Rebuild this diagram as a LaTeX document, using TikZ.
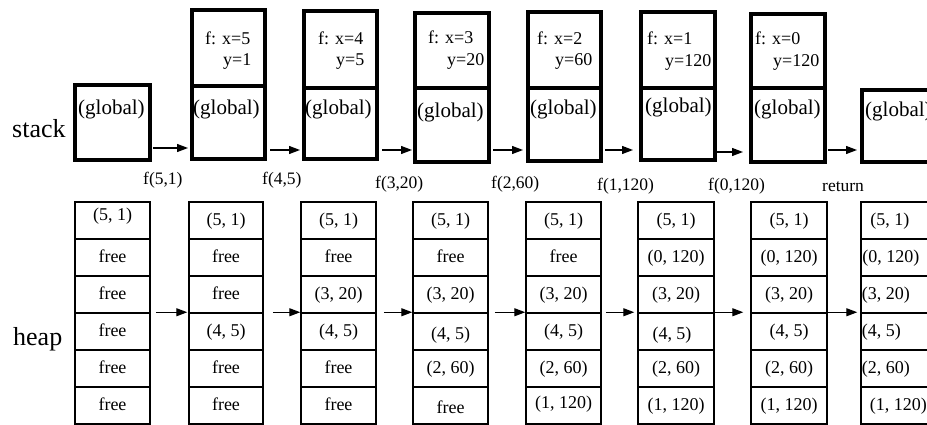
\documentclass[tikz,border=0pt]{standalone}
\usepackage{fontspec}
\setmainfont{Liberation Serif}
\usetikzlibrary{arrows.meta}
\newcommand\hcol[9]{%
  \foreach \rw/\tx in {0/{#4},1/{#5},2/{#6},3/{#7},4/{#8},5/{#9}}{%
    \node[cell, minimum width={#3-#2}] (h#1-\rw) at ({(#2+#3)/2},{220.5+37*\rw}) {\tx};
  }%
}
\begin{document}
\begin{tikzpicture}[x=1pt,y=-1pt,
  frame/.style={draw, line width=4pt, inner sep=0pt},
  cell/.style={draw, line width=1.5pt, inner sep=0pt, minimum height=37pt, text height=13pt, text depth=3pt, font=\fontsize{18}{20}\selectfont},
  arr/.style={line width=1.3pt, -{Triangle[length=11pt,width=8pt]}},
  lab/.style={inner sep=0pt, anchor=base west, font=\fontsize{17.5}{20}\selectfont},
  ftx/.style={inner sep=0pt, anchor=base west, font=\fontsize{18}{20}\selectfont},
  gtx/.style={inner sep=0pt, anchor=base west, font=\fontsize{21}{24}\selectfont},
  htx/.style={inner sep=0pt, anchor=west, text height=13pt, text depth=3pt, font=\fontsize{18}{20}\selectfont},
  big/.style={inner sep=0pt, anchor=base west, font=\fontsize{26}{30}\selectfont}]
\clip (0,0) rectangle (927,425);

% side labels
\node[big] (stk) at (12,138) {stack};
\node[big] (hp) at (13,345) {heap};

% stack boxes
\node[frame, minimum width=75pt, minimum height=75pt] (g0) at (112.5,122.5) {};
\node[frame, minimum width=73pt, minimum height=76pt] (f1) at (228.5,48) {};
\node[frame, minimum width=73pt, minimum height=73pt] (g1) at (228.5,122.5) {};
\node[frame, minimum width=73pt, minimum height=77pt] (f2) at (340.5,49.5) {};
\node[frame, minimum width=73pt, minimum height=71pt] (g2) at (340.5,123.5) {};
\node[frame, minimum width=74pt, minimum height=75pt] (f3) at (452,50.5) {};
\node[frame, minimum width=74pt, minimum height=74pt] (g3) at (452,125) {};
\node[frame, minimum width=73pt, minimum height=76pt] (f4) at (564.5,50) {};
\node[frame, minimum width=73pt, minimum height=73pt] (g4) at (564.5,124.5) {};
\node[frame, minimum width=74pt, minimum height=76pt] (f5) at (678,50) {};
\node[frame, minimum width=74pt, minimum height=72pt] (g5) at (678,124) {};
\node[frame, minimum width=74pt, minimum height=74pt] (f6) at (788,51) {};
\node[frame, minimum width=74pt, minimum height=74pt] (g6) at (788,125) {};
\node[frame, minimum width=78pt, minimum height=72pt] (g7) at (901,126) {};

% (global) texts
\node[gtx] (tg0) at (78,115) {(global)};
\node[gtx] (tg1) at (193,115) {(global)};
\node[gtx] (tg2) at (305,115) {(global)};
\node[gtx] (tg3) at (417,118) {(global)};
\node[gtx] (tg4) at (530,115) {(global)};
\node[gtx] (tg5) at (645,113) {(global)};
\node[gtx] (tg6) at (754,115) {(global)};
\node[gtx] (tg7) at (865,117) {(global)};

% frame texts
\node[ftx] (fa1) at (205,45) {f: x=5};
\node[ftx] (fb1) at (223,66) {y=1};
\node[ftx] (fa2) at (318,45) {f: x=4};
\node[ftx] (fb2) at (336,66) {y=5};
\node[ftx] (fa3) at (428,44) {f: x=3};
\node[ftx] (fb3) at (447,66) {y=20};
\node[ftx] (fa4) at (537,45) {f: x=2};
\node[ftx] (fb4) at (555,66) {y=60};
\node[ftx] (fa5) at (647,45) {f: x=1};
\node[ftx] (fb5) at (665,67) {y=120};
\node[ftx] (fa6) at (755,45) {f: x=0};
\node[ftx] (fb6) at (773,67) {y=120};

% stack arrows
\foreach \pa/\pb/\yy/\ss/\ee in {g0/g1/148/1/2, g1/g2/150/3/2, g2/g3/150/3/1, g3/g4/150/2/3, g4/g5/150/2/6, g5/g6/152/-4/6, g6/g7/150/1/3}{
  \coordinate (ya) at (0,\yy);
  \draw[arr, shorten <=\ss pt, shorten >=\ee pt] (\pa.east |- ya) -- (\pb.west |- ya);
}

% call labels
\node[lab] (l1) at (143,185) {f(5,1)};
\node[lab] (l2) at (262,185) {f(4,5)};
\node[lab] (l3) at (375,189) {f(3,20)};
\node[lab] (l4) at (491,189) {f(2,60)};
\node[lab] (l5) at (597,190) {f(1,120)};
\node[lab] (l6) at (708,190) {f(0,120)};
\node[lab] (l7) at (822,192) {return};

% heap columns
\hcol{0}{75}{150}{\raisebox{5pt}{(5, 1)}}{free}{free}{free}{free}{free}
\hcol{1}{189}{263}{(5, 1)}{free}{free}{(4, 5)}{free}{free}
\hcol{2}{301}{376}{(5, 1)}{free}{(3, 20)}{(4, 5)}{free}{free}
\hcol{3}{413}{488}{(5, 1)}{free}{(3, 20)}{\raisebox{-3pt}{(4, 5)}}{(2, 60)}{\raisebox{-3pt}{free}}
\hcol{4}{526}{601}{(5, 1)}{free}{(3, 20)}{(4, 5)}{(2, 60)}{\raisebox{2pt}{(1, 120)}}
\hcol{5}{638}{714}{(5, 1)}{(0, 120)}{(3, 20)}{\hspace*{-8pt}\raisebox{-3pt}{(4, 5)}}{(2, 60)}{(1, 120)}
\hcol{6}{751}{827}{(5, 1)}{(0, 120)}{(3, 20)}{(4, 5)}{(2, 60)}{(1, 120)}
\hcol{7}{861}{936}{}{}{}{}{}{}
\node[htx] (t70) at ([xshift=10pt]h7-0.west) {(5, 1)};
\node[htx] (t71) at ([xshift=2pt]h7-1.west) {(0, 120)};
\node[htx] (t72) at ([xshift=1.5pt]h7-2.west) {(3, 20)};
\node[htx] (t73) at ([xshift=1.5pt]h7-3.west) {(4, 5)};
\node[htx] (t74) at ([xshift=1.5pt]h7-4.west) {(2, 60)};
\node[htx] (t75) at ([xshift=9.5pt]h7-5.west) {(1, 120)};

% heap arrows
\foreach \pa/\pb/\ss/\ee in {0/1/5/1, 1/2/9/0, 2/3/7/0, 3/4/6/0, 4/5/4/3, 5/6/0/7, 6/7/0/3}{
  \draw[arr, shorten <=\ss pt, shorten >=\ee pt] (h\pa-3.north east) -- (h\pb-3.north west);
}
\end{tikzpicture}
\end{document}
